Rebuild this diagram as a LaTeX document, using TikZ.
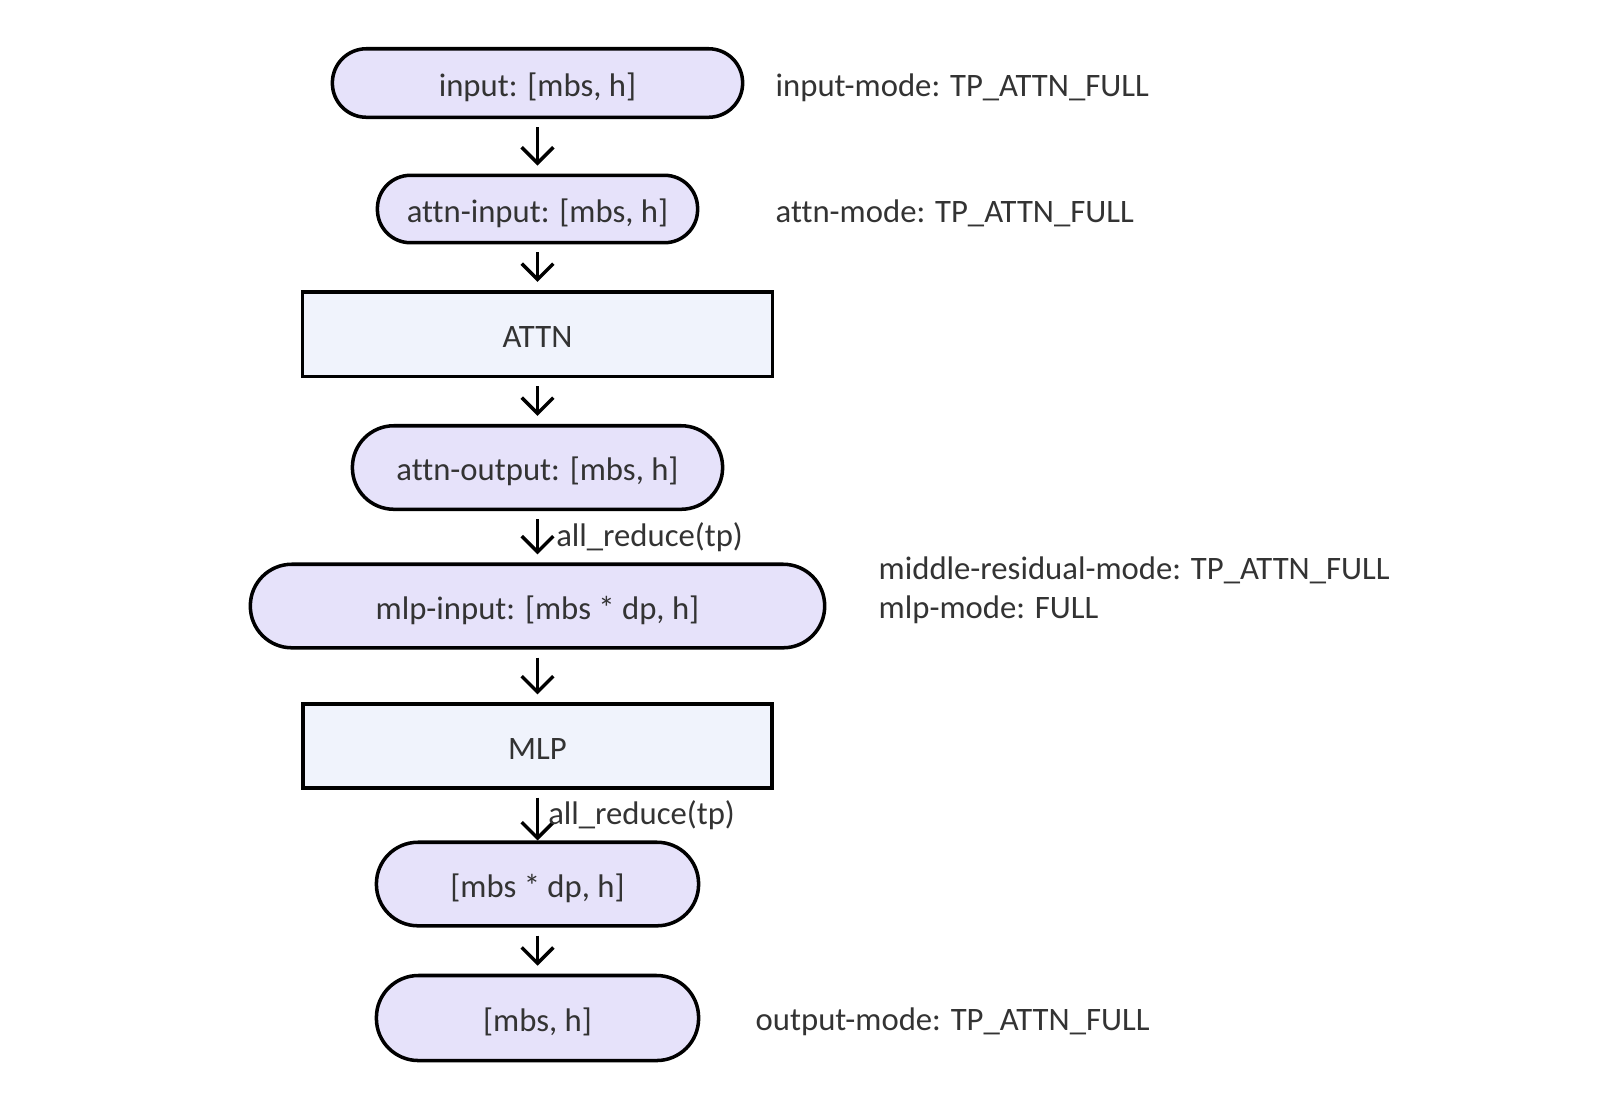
\documentclass[tikz,border=0pt]{standalone}
\usepackage{fontspec}
\setmainfont{Carlito}[Ligatures=NoCommon]
\usetikzlibrary{positioning, arrows.meta}

\definecolor{datafill}{HTML}{E6E2FA}
\definecolor{opfill}{HTML}{F0F3FC}
\definecolor{txt}{HTML}{333333}

\tikzset{
  databox/.style={draw=black, line width=1pt, fill=datafill, text=txt,
    minimum height=0.835cm, rounded corners=0.415cm, text height=1em, text depth=0.25em,
    font=\fontsize{9.3}{11}\selectfont},
  opbox/.style={draw=black, line width=1pt, fill=opfill, text=txt,
    minimum height=0.835cm, text height=1em, text depth=0.25em,
    font=\fontsize{9.3}{11}\selectfont},
  modelabel/.style={anchor=west, inner sep=0pt, text=txt, yshift=-0.02cm,
    font=\fontsize{9.3}{11}\selectfont},
  elabel/.style={anchor=west, inner sep=0pt, text=txt, font=\fontsize{9.3}{11}\selectfont},
  flow/.style={-{Straight Barb[length=4.5pt,width=9pt]}, line width=1pt,
    shorten <=0.08cm, shorten >=0.08cm}
}

\begin{document}
\begin{tikzpicture}[x=0.01cm, y=-0.01cm]
  \def\cx{537.5}

  % canvas
  \useasboundingbox[fill=white] (0,0) rectangle (1622,1108);

  % Draw the data and op boxes
  \node[databox, minimum width=4.10cm, minimum height=0.685cm, rounded corners=0.34cm] (input) at (\cx,83) {input: [mbs, h]};
  \node[databox, minimum width=3.20cm, minimum height=0.665cm, rounded corners=0.33cm] (attninput) at (\cx,209) {attn-input: [mbs, h]};
  \node[opbox, minimum width=4.70cm, minimum height=0.845cm] (attn) at (\cx,334) {ATTN};
  \node[databox, minimum width=3.70cm] (attnoutput) at (\cx,467.5) {attn-output: [mbs, h]};
  \node[databox, minimum width=5.74cm] (mlpinput) at (\cx,606) {mlp-input: [mbs * dp, h]};
  \node[opbox, minimum width=4.69cm] (mlp) at (\cx,746) {MLP};
  \node[databox, minimum width=3.22cm] (mlpoutput) at (\cx,884) {[mbs * dp, h]};
  \node[databox, minimum width=3.22cm, minimum height=0.85cm, rounded corners=0.42cm] (output) at (\cx,1018) {[mbs, h]};

  % Arrows between the boxes
  \draw[flow] (input) -- (attninput);
  \draw[flow] (attninput) -- (attn);
  \draw[flow] (attn) -- (attnoutput);
  \draw[flow] (attnoutput) -- node[elabel, xshift=0.17cm] {all\_reduce(tp)} (mlpinput);
  \draw[flow] (mlpinput) -- (mlp);
  \draw[flow, shorten >=0cm] (mlp) -- node[elabel, xshift=0.09cm] {all\_reduce(tp)} (mlpoutput);
  \draw[flow] (mlpoutput) -- (output);

  % Mode labels on the right
  \node[modelabel] (inputmode) at (775,86) {input-mode: TP\_ATTN\_FULL};
  \node[modelabel] (attnmode) at (775,211) {attn-mode: TP\_ATTN\_FULL};
  \node[modelabel] (midmode) at (878,568) {middle-residual-mode: TP\_ATTN\_FULL};
  \node[modelabel] (mlpmode) at (878,608) {mlp-mode: FULL};
  \node[modelabel] (outputmode) at (755,1020) {output-mode: TP\_ATTN\_FULL};

\end{tikzpicture}
\end{document}
